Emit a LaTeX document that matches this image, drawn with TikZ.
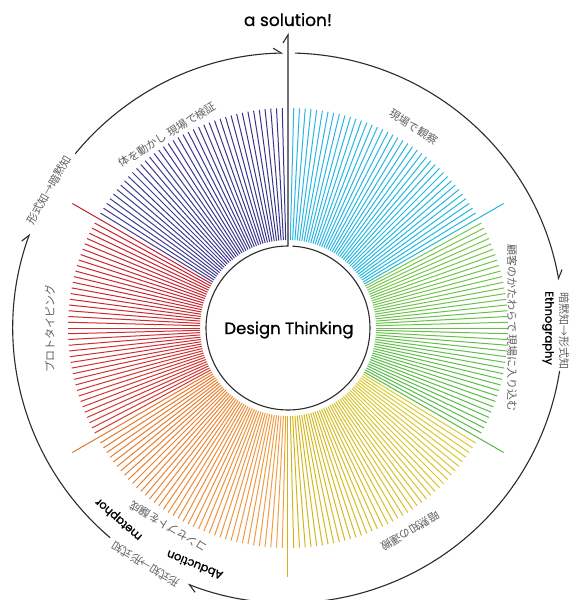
\documentclass[tikz,border=0pt]{standalone}
\usepackage{fontspec}
\setmainfont{Poppins}
\newfontfamily\jpfont{Noto Sans CJK JP}
\newfontfamily\popmed{Poppins}[FakeBold=1.2]
\newfontfamily\popdemi{Poppins}[FakeBold=0.7]
\usetikzlibrary{arrows.meta}

\definecolor{linegray}{HTML}{2B2B2B}
\definecolor{labelgray}{HTML}{606060}
% sector ray colours: start (counter-clockwise end) / finish (clockwise end)
\definecolor{cyanA}{HTML}{2BB4E3}\definecolor{cyanB}{HTML}{22B8DA}
\definecolor{greenA}{HTML}{7AC64E}\definecolor{greenB}{HTML}{55B947}
\definecolor{yellowA}{HTML}{D8CC30}\definecolor{yellowB}{HTML}{D2B31A}
\definecolor{orangeA}{HTML}{F0A24A}\definecolor{orangeB}{HTML}{E5782A}
\definecolor{redA}{HTML}{D23A33}\definecolor{redB}{HTML}{C62030}
\definecolor{purpA}{HTML}{413C90}\definecolor{purpB}{HTML}{3A3288}

\begin{document}
\begin{tikzpicture}[x=1pt,y=1pt,
  ring/.style={draw=linegray, line width=1.1pt},
  harp/.style={-{Straight Barb[harpoon,length=8pt,width=10pt]}},
  sectorlabel/.style={text=labelgray, font=\jpfont\fontsize{11}{13}\selectfont, inner sep=0pt},
  flowlabel/.style={text=labelgray, font=\jpfont\fontsize{11}{13}\selectfont, inner sep=0pt},
  methodlabel/.style={text=black, font=\popmed\fontsize{11.5}{13}\selectfont, inner sep=0pt}]

\useasboundingbox (-288,-272) rectangle (281,328);
\clip (-288,-272) rectangle (281,328);

% radiating rays, 40 per sector; the last ray of each sector is long
\foreach \s/\ca/\cb in {0/cyanA/cyanB, 1/greenA/greenB, 2/yellowA/yellowB,
                        3/orangeA/orangeB, 4/redA/redB, 5/purpA/purpB} {
  \foreach \k in {1,...,40} {
    \pgfmathsetmacro\ang{90-60*\s-1.5*\k}
    \pgfmathtruncatemacro\mix{100-2.5*\k}
    \pgfmathsetmacro\rout{\k==40 ? 249 : 220}
    \pgfmathtruncatemacro\noray{(\s==5)&&(\k==40)}
    \ifnum\noray=0
      \draw[line width=1pt, color=\ca!\mix!\cb] (\ang:88) -- (\ang:\rout);
    \fi
  }
}

% centre and the way out
\node[font=\popdemi\fontsize{16.5}{18}\selectfont] (dt) at (1,-2) {Design Thinking};
\node[anchor=base, font=\popdemi\fontsize{17}{19}\selectfont, inner sep=0pt] (sol) at (0,302) {a solution!};
\coordinate (exit) at (0,295);
\draw[ring, harp] (87:82) arc[start angle=87, end angle=-270, radius=82] -- (exit);

% outer cycle, broken at the three transitions
\draw[ring, harp] (88.5:275) arc[start angle=88.5, end angle=10, radius=275];
\draw[ring, harp] (-9:275) arc[start angle=-9, end angle=-111.4, radius=275];
\draw[ring, harp] (-130.3:275) arc[start angle=-130.3, end angle=-200.1, radius=275];
\draw[ring, harp] (140.7:275) arc[start angle=140.7, end angle=91, radius=275];

% transitions on the outer cycle
\node[flowlabel, rotate=-90] (tr1) at (-0.7:276) {暗黙知→形式知};
\node[flowlabel, rotate=-211] (tr2) at (-121:276) {形式知→形式知};
\node[flowlabel, rotate=60] (tr3) at (150:276) {形式知→暗黙知};

\node[methodlabel, rotate=-90] (m1) at (0:260) {Ethnography};
\node[methodlabel, rotate=-202] (m2) at (-111.5:255) {Abduction};
\node[methodlabel, rotate=-221] (m3) at (-131.5:255) {metaphor};

% sector labels
\node[sectorlabel, rotate=-32] (l1) at (58:237) {現場で観察};
\node[sectorlabel, rotate=-90] (l2) at (0:224) {顧客のかたわらで 現場に入り込む};
\node[sectorlabel, rotate=-149] (l3) at (-59:237) {暗黙知の運搬};
\node[sectorlabel, rotate=-211] (l4) at (-121:232) {コンセプトを醸成};
\node[sectorlabel, rotate=90] (l5) at (180:238) {プロトタイピング};
\node[sectorlabel, rotate=32] (l6) at (122:228) {体を動かし 現場で検証};
\end{tikzpicture}
\end{document}
